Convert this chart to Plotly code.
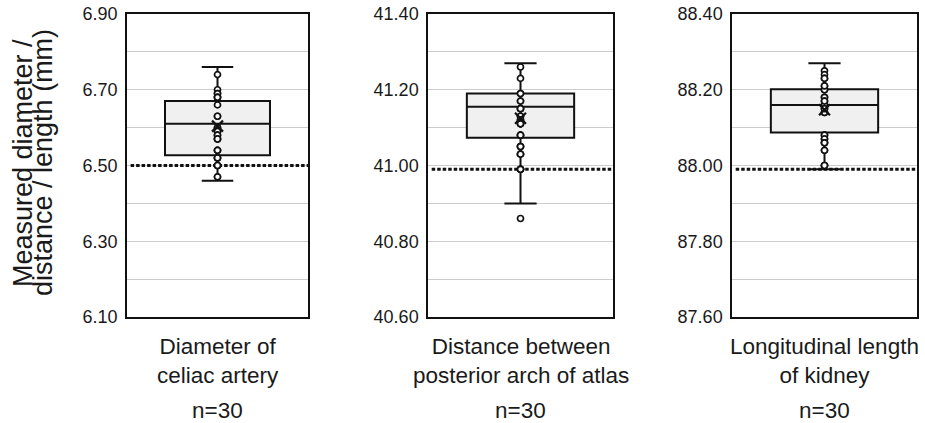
import plotly.graph_objects as go

# ---------------- data ----------------
categories = ["Diameter of<br>celiac artery",
              "Distance between<br>posterior arch of atlas",
              "Longitudinal length<br>of kidney"]
n_labels = ["n=30", "n=30", "n=30"]

reference_values = [6.50, 40.99, 87.99]

lower_whisker = [6.46, 40.90, 87.99]
q1_values = [6.527, 41.073, 88.087]
median_values = [6.61, 41.155, 88.16]
q3_values = [6.67, 41.19, 88.201]
upper_whisker = [6.76, 41.27, 88.27]
mean_values = [6.604, 41.125, 88.147]

points_celiac = [6.74, 6.70, 6.69, 6.69, 6.68, 6.68, 6.68, 6.66, 6.63, 6.63,
                 6.60, 6.60, 6.59, 6.59, 6.58, 6.58, 6.57, 6.57, 6.57, 6.54,
                 6.54, 6.54, 6.52, 6.52, 6.52, 6.50, 6.50, 6.50, 6.47, 6.47]
points_atlas = [41.26, 41.23, 41.19, 41.19, 41.17, 41.17, 41.15, 41.15, 41.13, 41.13,
                41.12, 41.12, 41.11, 41.11, 41.11, 41.08, 41.08, 41.08, 41.05, 41.05,
                41.05, 41.03, 41.03, 41.03, 40.99, 40.99, 40.99, 40.99, 40.86, 41.15]
points_kidney = [88.25, 88.24, 88.23, 88.21, 88.20, 88.20, 88.18, 88.18, 88.17, 88.16,
                 88.16, 88.15, 88.14, 88.14, 88.08, 88.08, 88.07, 88.07, 88.06, 88.06,
                 88.04, 88.04, 88.00, 88.00, 88.00, 88.21, 88.23, 88.17, 88.15, 88.06]
points_all = [points_celiac, points_atlas, points_kidney]

y_ranges = [[6.10, 6.90], [40.60, 41.40], [87.60, 88.40]]
y_bottoms = [6.10, 40.60, 87.60]
y_title_lines = ["Measured diameter /", "distance / length (mm)"]

# ---------------- figure ----------------
W, H = 925, 423


def px_x(p):
    return p / W


def px_y(p):
    return 1 - p / H


x_domains = [[px_x(127), px_x(308)], [px_x(428), px_x(613)], [px_x(732), px_x(917)]]
y_domain = [px_y(317), px_y(14)]

FONT = "Liberation Sans, Arial, sans-serif"
INK = "#111111"
fig = go.Figure()

for i in range(3):
    sfx = "" if i == 0 else str(i + 1)
    xa, ya = "x" + sfx, "y" + sfx

    fig.add_trace(go.Box(
        x=[0], q1=[q1_values[i]], median=[median_values[i]], q3=[q3_values[i]],
        lowerfence=[lower_whisker[i]], upperfence=[upper_whisker[i]],
        width=0.58, whiskerwidth=0.3, boxpoints=False,
        fillcolor="#f0f0f0", line=dict(color=INK, width=2),
        xaxis=xa, yaxis=ya, showlegend=False, hoverinfo="skip"))

    fig.add_trace(go.Scatter(
        x=[-0.48, 0.5], y=[reference_values[i]] * 2, mode="lines",
        line=dict(color=INK, width=3, dash="3.5px,2px"),
        xaxis=xa, yaxis=ya, showlegend=False, hoverinfo="skip"))

    fig.add_trace(go.Scatter(
        x=[0] * len(points_all[i]), y=points_all[i], mode="markers",
        marker=dict(symbol="circle", size=6, color="white",
                    line=dict(color=INK, width=1.7)),
        xaxis=xa, yaxis=ya, showlegend=False, hoverinfo="skip"))

    fig.add_trace(go.Scatter(
        x=[0], y=[mean_values[i]], mode="markers",
        marker=dict(symbol="x-thin", size=11, color=INK,
                    line=dict(color=INK, width=2.2)),
        xaxis=xa, yaxis=ya, showlegend=False, hoverinfo="skip"))

    lo = y_bottoms[i]
    tickvals = [round(lo + 0.1 * k, 2) for k in range(9)]
    ticktext = [f"{v:.2f}" if k % 2 == 0 else "" for k, v in enumerate(tickvals)]

    fig.update_layout(**{
        "xaxis" + sfx: dict(domain=x_domains[i], range=[-0.5, 0.5], anchor=ya,
                            showticklabels=False, ticks="", showgrid=False,
                            zeroline=False, showline=True, mirror=True, automargin=False,
                            linecolor=INK, linewidth=1.5, fixedrange=True),
        "yaxis" + sfx: dict(domain=y_domain, range=y_ranges[i], anchor=xa,
                            tickvals=tickvals, ticktext=ticktext, ticks="",
                            showgrid=True, gridcolor="#cccccc", gridwidth=1,
                            zeroline=False, showline=True, mirror=True, automargin=False,
                            linecolor=INK, linewidth=1.5, ticklabelstandoff=4,
                            ticklabeloverflow="allow",
                            tickfont=dict(family=FONT, size=18, color="#1a1a1a"),
                            fixedrange=True),
    })

    fig.add_annotation(text=categories[i], x=0.5, xref=xa + " domain",
                       y=px_y(361), yref="paper", xanchor="center", yanchor="middle",
                       showarrow=False, align="center",
                       font=dict(family=FONT, size=22.5, color="#1a1a1a"))
    fig.add_annotation(text=n_labels[i], x=0.5, xref=xa + " domain",
                       y=px_y(410), yref="paper", xanchor="center", yanchor="middle",
                       showarrow=False,
                       font=dict(family=FONT, size=22.5, color="#1a1a1a"))

for line, xpx in zip(y_title_lines, [23, 43]):
    fig.add_annotation(text=line, x=px_x(xpx), xref="paper", y=px_y(163), yref="paper",
                       xanchor="center", yanchor="middle", textangle=-90,
                       showarrow=False,
                       font=dict(family=FONT, size=27, color="#1a1a1a"))

fig.update_layout(width=W, height=H, margin=dict(l=0, r=0, t=0, b=0),
                  plot_bgcolor="white", paper_bgcolor="white")

fig.write_html("out.html", config={"displayModeBar": False},
               post_script="document.body.style.margin='0px';")
